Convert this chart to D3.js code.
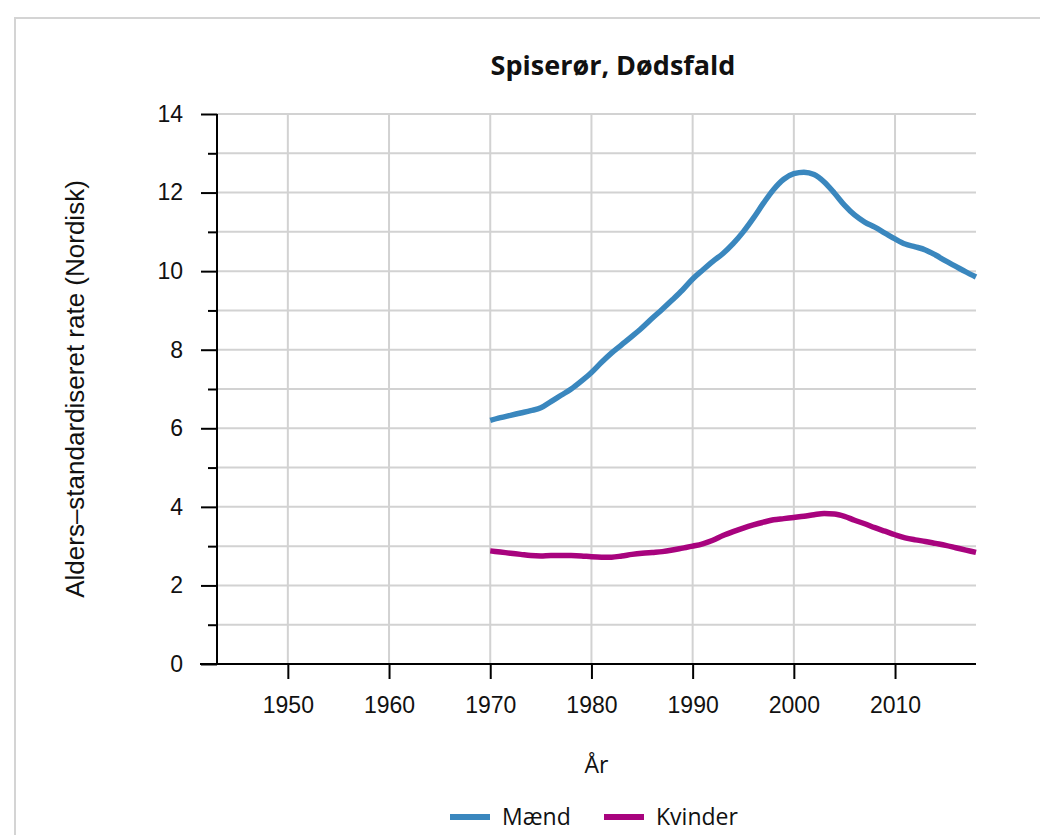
<!DOCTYPE html>
<html><head><meta charset="utf-8">
<script src="https://cdn.jsdelivr.net/npm/d3@7"></script>
<style>body{margin:0;background:#fff}svg{display:block}</style>
</head><body>
<svg id="c" width="1040" height="835"></svg>
<script>
const years = d3.range(1970, 2019);
const maend = [6.20,6.27,6.33,6.39,6.45,6.52,6.68,6.84,7.00,7.20,7.42,7.68,7.92,8.13,8.34,8.56,8.80,9.03,9.27,9.52,9.80,10.03,10.25,10.45,10.70,11.00,11.35,11.73,12.08,12.34,12.48,12.52,12.46,12.27,11.99,11.68,11.43,11.25,11.12,10.97,10.82,10.69,10.62,10.54,10.41,10.26,10.12,9.98,9.85];
const kvinder = [2.88,2.85,2.82,2.79,2.76,2.75,2.76,2.76,2.76,2.75,2.73,2.72,2.72,2.75,2.79,2.82,2.84,2.86,2.90,2.95,3.00,3.06,3.15,3.27,3.37,3.46,3.54,3.61,3.67,3.70,3.73,3.76,3.80,3.83,3.82,3.76,3.66,3.57,3.47,3.38,3.29,3.21,3.16,3.12,3.07,3.02,2.96,2.90,2.84];
const seriesNames = ["Mænd","Kvinder"];
const seriesColors = ["#3a87be","#a8037e"];
const xTicks = [1950,1960,1970,1980,1990,2000,2010];
const yMajor = [0,2,4,6,8,10,12,14];
const yMinor = [1,3,5,7,9,11,13];
const title = "Spiserør, Dødsfald";
const xTitle = "År";
const yTitle = "Alders–standardiseret rate (Nordisk)";

const svg = d3.select("#c");
const L = 217, R = 976, T = 114, B = 664;
const x = d3.scaleLinear().domain([1943, 2018]).range([L, R]);
const y = d3.scaleLinear().domain([0, 14]).range([B, T]);

// border
svg.append("rect").attr("x",15).attr("y",18).attr("width",1040).attr("height",840)
  .attr("fill","none").attr("stroke","#d4d4d4").attr("stroke-width",2);

// grid
const g = svg.append("g");
g.selectAll("line.hg").data(yMajor.concat(yMinor).filter(v=>v>0)).join("line")
  .attr("x1",L).attr("x2",R).attr("y1",d=>y(d)).attr("y2",d=>y(d))
  .attr("stroke","#d2d2d2").attr("stroke-width",2);
g.selectAll("line.vg").data(xTicks).join("line")
  .attr("x1",d=>x(d)).attr("x2",d=>x(d)).attr("y1",T).attr("y2",B)
  .attr("stroke","#d2d2d2").attr("stroke-width",2);

// y axis
const yAx = svg.append("g").attr("transform",`translate(${L},0)`)
  .call(d3.axisLeft(y).tickValues(yMajor).tickSize(16).tickPadding(18).tickFormat(d3.format("d")));
svg.append("g").attr("transform",`translate(${L},0)`)
  .call(d3.axisLeft(y).tickValues(yMinor).tickSize(9).tickFormat(""))
  .select(".domain").remove();
// x axis
const xAx = svg.append("g").attr("transform",`translate(0,${B})`)
  .call(d3.axisBottom(x).tickValues(xTicks).tickSize(15).tickPadding(18).tickFormat(d3.format("d")));
svg.selectAll(".domain").attr("stroke","#000").attr("stroke-width",2);
yAx.select(".domain").attr("d",`M0,${T}V${B}`);
xAx.select(".domain").attr("d",`M${L-17},0H${R}`);
svg.selectAll(".tick line").attr("stroke","#000").attr("stroke-width",2);
svg.selectAll(".tick text").attr("font-family","Liberation Sans, Arial, sans-serif").attr("font-size",23).attr("fill","#111");

// lines
const line = d3.line().x((d,i)=>x(years[i])).y(d=>y(d)).curve(d3.curveMonotoneX);
[maend,kvinder].forEach((s,k)=>{
  svg.append("path").datum(s).attr("d",line).attr("fill","none")
    .attr("stroke",seriesColors[k]).attr("stroke-width",5.5).attr("stroke-linejoin","round");
});

// titles
svg.append("text").attr("x",613).attr("y",75).attr("text-anchor","middle")
  .attr("font-family","Open Sans, Noto Sans, sans-serif").attr("font-weight","bold").attr("font-size",27).attr("fill","#111").text(title);
svg.append("text").attr("x",(L+R)/2).attr("y",773).attr("text-anchor","middle")
  .attr("font-family","Open Sans, Noto Sans, sans-serif").attr("font-size",23).attr("fill","#111").text(xTitle);
svg.append("text").attr("transform",`translate(84,${(T+B)/2}) rotate(-90)`).attr("text-anchor","middle")
  .attr("font-family","Liberation Sans, Arial, sans-serif").attr("font-size",26).attr("fill","#111").text(yTitle);

// legend
const legX = [450, 604];
seriesNames.forEach((n,k)=>{
  svg.append("rect").attr("x",legX[k]).attr("y",814).attr("width",40).attr("height",6).attr("fill",seriesColors[k]);
  svg.append("text").attr("x",legX[k]+52).attr("y",825).attr("font-family","Open Sans, Noto Sans, sans-serif")
    .attr("font-size",23).attr("fill","#111").text(n);
});
</script>
</body></html>
